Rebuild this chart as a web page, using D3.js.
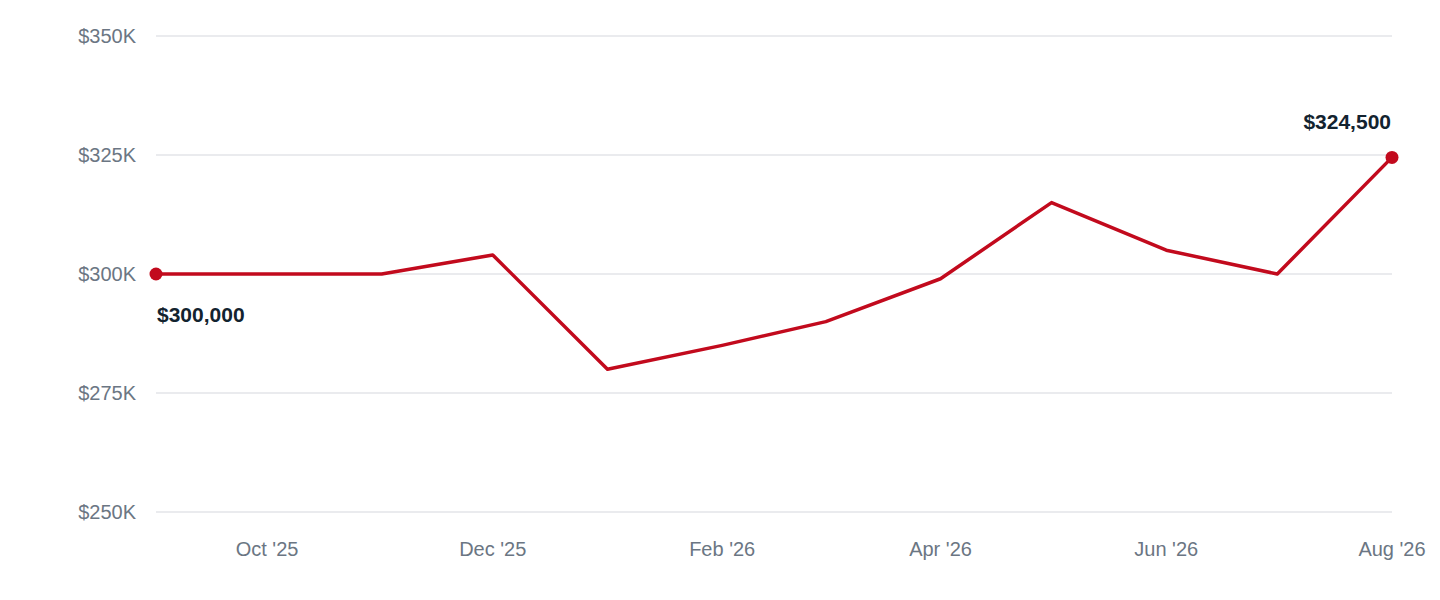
<!DOCTYPE html>
<html>
<head>
<meta charset="utf-8">
<script src="https://cdn.jsdelivr.net/npm/d3@7"></script>
<style>
body { margin: 0; background: #fff; font-family: "Liberation Sans", Arial, sans-serif; }
</style>
</head>
<body>
<div id="chart"></div>
<script>
let months = ['2025-09','2025-10','2025-11','2025-12','2026-01','2026-02','2026-03','2026-04','2026-05','2026-06','2026-07','2026-08'];
let prices = [300000, 300000, 300000, 304000, 280000, 285000, 290000, 299000, 315000, 305000, 300000, 324500];
let yTicks = [250000, 275000, 300000, 325000, 350000];
let xTickMonths = ['2025-10','2025-12','2026-02','2026-04','2026-06','2026-08'];

let parse = d3.timeParse('%Y-%m');
let data = months.map((m, i) => ({date: parse(m), value: prices[i]}));

let width = 1440, height = 600;
let margin = {top: 36, right: 48, bottom: 88, left: 156};

let svg = d3.select('#chart').append('svg')
    .attr('width', width)
    .attr('height', height);

let x = d3.scaleTime()
    .domain(d3.extent(data, d => d.date))
    .range([margin.left, width - margin.right]);

let y = d3.scaleLinear()
    .domain([250000, 350000])
    .range([height - margin.bottom, margin.top]);

// grid + y labels
let yAxis = svg.append('g');
yAxis.selectAll('line')
    .data(yTicks)
    .enter()
    .append('line')
    .attr('x1', margin.left)
    .attr('x2', width - margin.right)
    .attr('y1', d => y(d))
    .attr('y2', d => y(d))
    .attr('stroke', '#e3e5e8')
    .attr('stroke-width', 1.5);
yAxis.selectAll('text')
    .data(yTicks)
    .enter()
    .append('text')
    .attr('x', 136)
    .attr('y', d => y(d))
    .attr('dy', '0.35em')
    .attr('text-anchor', 'end')
    .attr('fill', '#6b7683')
    .style('font-size', '20px')
    .text(d => '$' + d / 1000 + 'K');

// x labels
svg.append('g')
    .selectAll('text')
    .data(xTickMonths)
    .enter()
    .append('text')
    .attr('x', d => x(parse(d)))
    .attr('y', 556)
    .attr('text-anchor', 'middle')
    .attr('fill', '#6b7683')
    .style('font-size', '20px')
    .text(d => d3.timeFormat("%b '%y")(parse(d)));

// line
let line = d3.line().x(d => x(d.date)).y(d => y(d.value));
svg.append('path')
    .datum(data)
    .attr('d', line)
    .attr('fill', 'none')
    .attr('stroke', '#c20a1d')
    .attr('stroke-width', 3.5)
    .attr('stroke-linejoin', 'round');

// end points
let first = data[0], last = data[data.length - 1];
svg.selectAll('circle.end')
    .data([first, last])
    .enter()
    .append('circle')
    .attr('cx', d => x(d.date))
    .attr('cy', d => y(d.value))
    .attr('r', 6.5)
    .attr('fill', '#c20a1d');

let fmt = d3.format('$,');
svg.append('text')
    .attr('x', x(first.date) + 1)
    .attr('y', y(first.value) + 48)
    .attr('fill', '#13232f')
    .style('font-size', '21px')
    .style('font-weight', 'bold')
    .text(fmt(first.value));
svg.append('text')
    .attr('x', x(last.date) - 1)
    .attr('y', y(last.value) - 28)
    .attr('text-anchor', 'end')
    .attr('fill', '#13232f')
    .style('font-size', '21px')
    .style('font-weight', 'bold')
    .text(fmt(last.value));
</script>
</body>
</html>
